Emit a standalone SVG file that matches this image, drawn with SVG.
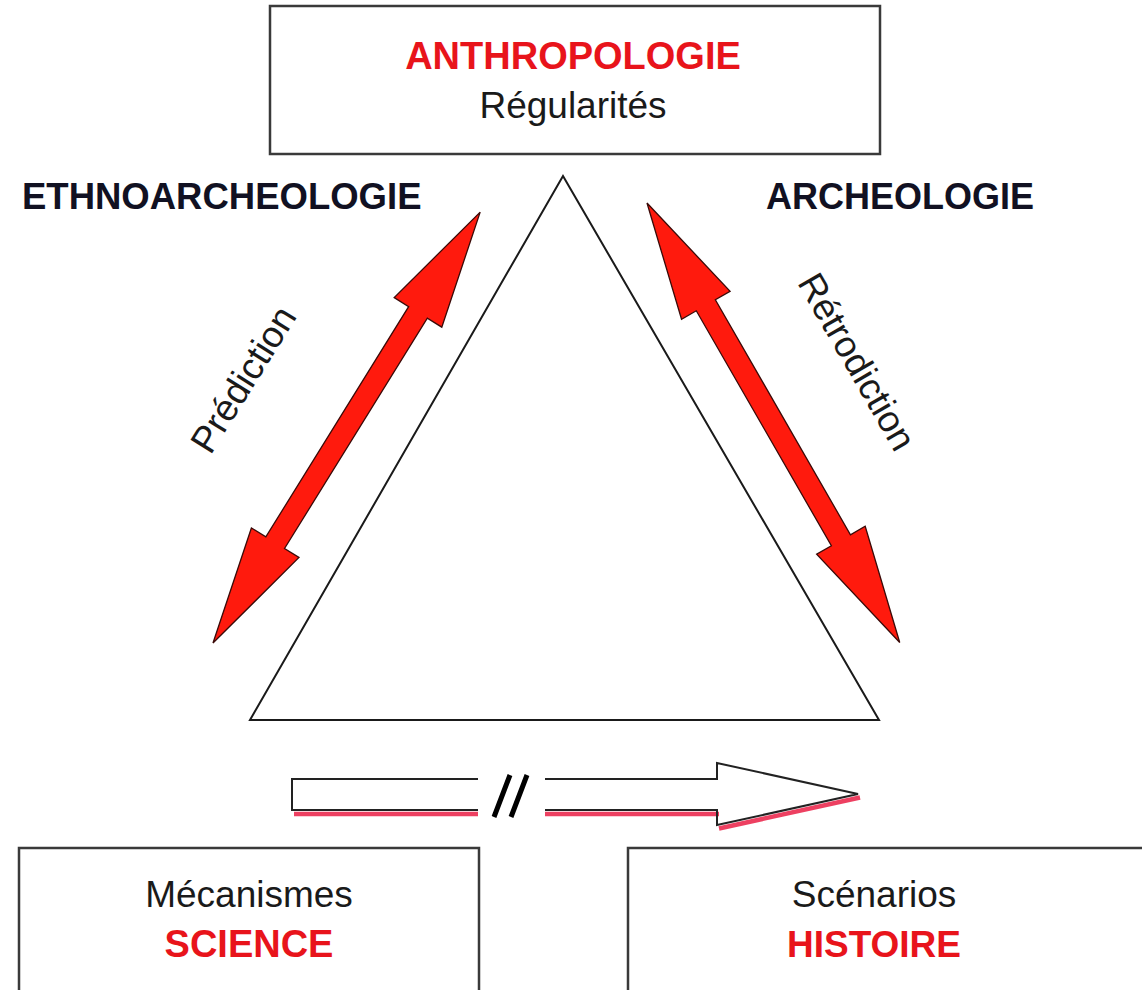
<svg xmlns="http://www.w3.org/2000/svg" width="1142" height="990" viewBox="0 0 1142 990">
<style>
.box{fill:#fff;stroke:#3a3a3a;stroke-width:2.5}
.red{font-family:"Liberation Sans",Arial,sans-serif;font-weight:bold;fill:#e8141b;text-anchor:middle}
.blk{font-family:"Liberation Sans",Arial,sans-serif;fill:#1a1a1a;text-anchor:middle}
.hdr{font-family:"Liberation Sans",Arial,sans-serif;font-weight:bold;fill:#111122}
.dbl{fill:#ff1a0d;stroke:#3a0a08;stroke-width:1.3;stroke-linejoin:miter}
.shadow{fill:none;stroke:#e8103a;stroke-width:4.5;opacity:0.8}
.outline{fill:none;stroke:#222;stroke-width:2}
</style>
<defs>
<polygon id="dbl" points="0,0 118,-28 118,-11 389,-11 389,-28 507,0 389,28 389,11 118,11 118,28"/>
</defs>
<rect width="1142" height="990" fill="#fff"/>

<g id="anthropologie">
<rect class="box" x="270" y="6" width="610" height="148"/>
<text class="red" x="573" y="69" font-size="38">ANTHROPOLOGIE</text>
<text class="blk" x="573" y="118" font-size="37">Régularités</text>
</g>

<g id="ethnoarcheologie">
<text class="hdr" x="22" y="209" font-size="36.5">ETHNOARCHEOLOGIE</text>
</g>
<g id="archeologie">
<text class="hdr" x="766" y="209" font-size="36">ARCHEOLOGIE</text>
</g>

<g id="triangle">
<polygon points="563,176 250,720 879,720" fill="#fff" stroke="#1a1a1a" stroke-width="2"/>
</g>

<g id="connectors">
<use href="#dbl" class="dbl" transform="translate(213,643) rotate(-58.2)"/>
<use href="#dbl" class="dbl" transform="translate(647,203) rotate(60.1)"/>
<g id="horizontal-arrow">
<polygon points="292,779 717,779 717,763 858,794 717,825 717,810 292,810" fill="#fff"/>
<path class="shadow" d="M294,814 H478 M545,814 H719 M719,828.5 L860,797.5"/>
<path class="outline" d="M478,779 H292 V810 H478 M545,779 H717 V763 L858,794 L717,825 V810 H545"/>
<rect x="480" y="770" width="63" height="50" fill="#fff"/>
<path d="M494,817 L510,775 M511,817 L527,775" stroke="#000" stroke-width="5" fill="none"/>
</g>
</g>

<g id="prediction-label">
<text class="blk" font-size="37" transform="translate(254,386) rotate(-58)">Prédiction</text>
</g>
<g id="retrodiction-label">
<text class="blk" font-size="37" transform="translate(846,368) rotate(60)">Rétrodiction</text>
</g>

<g id="science">
<rect class="box" x="19" y="848" width="460" height="160"/>
<text class="blk" x="249" y="907" font-size="37">Mécanismes</text>
<text class="red" x="249" y="957" font-size="38">SCIENCE</text>
</g>
<g id="histoire">
<rect class="box" x="628" y="848" width="540" height="160"/>
<text class="blk" x="874" y="907" font-size="37">Scénarios</text>
<text class="red" x="874" y="957" font-size="37">HISTOIRE</text>
</g>
</svg>
